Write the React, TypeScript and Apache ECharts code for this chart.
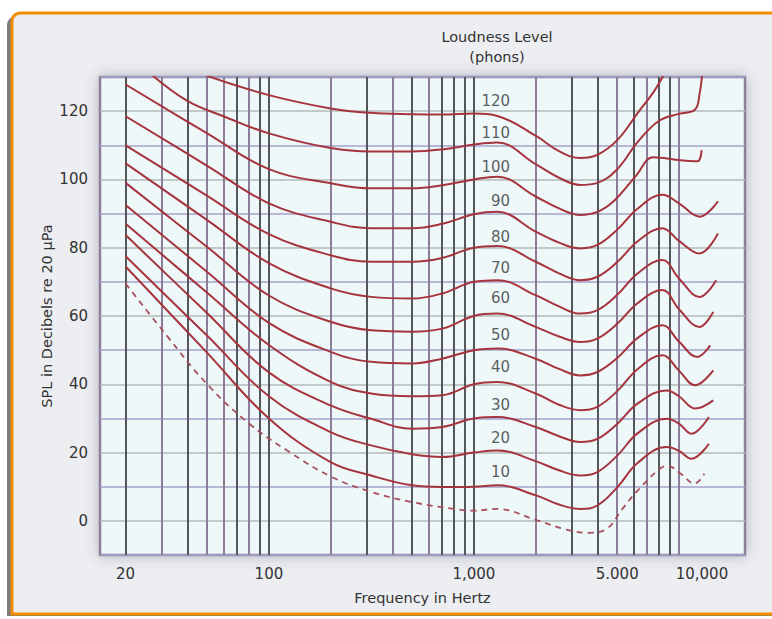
import React, { useEffect, useRef } from 'react';
import * as echarts from 'echarts';

// Loudness level of each solid contour (phons)
const PHONS = [120, 110, 100, 90, 80, 70, 60, 50, 40, 30, 20, 10];

// Each contour: [frequency Hz, SPL dB]
const PHON_120: [number, number][] = [[49, 130.5], [100, 124.7], [200, 120.8], [315, 119.5], [500, 119.1], [700, 119], [1000, 119.3], [1300, 118.6], [2000, 112.8], [2600, 108.3], [3300, 106.3], [4000, 107.2], [5000, 111.5], [6300, 119.5], [7500, 125.5], [8500, 131]];
const PHON_110: [number, number][] = [[27, 130.5], [40, 123], [60, 118.5], [100, 113.5], [200, 109.2], [315, 108.2], [500, 108.2], [700, 108.8], [1000, 110.2], [1300, 110.8], [2000, 104.5], [2600, 100.5], [3300, 98.4], [4000, 99], [5000, 103], [6300, 111], [8000, 117.2], [10000, 119.2], [12000, 120.5], [12600, 125], [13000, 131]];
const PHON_100: [number, number][] = [[20, 127.8], [50, 113.5], [100, 103], [200, 98.9], [315, 97.4], [500, 97.4], [700, 98.3], [1000, 100], [1300, 100.8], [2000, 95], [2600, 91.5], [3300, 89.6], [4000, 90.5], [4800, 93.6], [6200, 101.2], [7500, 106.5], [10200, 105.6], [12300, 105.3], [12900, 108.6]];
const PHON_90: [number, number][] = [[20, 118.5], [50, 104], [100, 93], [200, 87.6], [315, 85.7], [500, 85.7], [700, 87], [1000, 89.8], [1300, 90.5], [2000, 84.7], [2600, 81.5], [3300, 79.8], [4000, 80.8], [5000, 85.3], [6300, 91.5], [8300, 95.5], [10000, 93], [12600, 89.1], [15500, 93.6]];
const PHON_80: [number, number][] = [[20, 110], [50, 95.2], [100, 84], [200, 77.8], [315, 75.9], [500, 75.9], [700, 77], [1000, 80], [1300, 80.5], [2000, 75.9], [2600, 72.5], [3300, 70.5], [4000, 71.5], [5000, 75.8], [6300, 81.9], [8300, 85.7], [10000, 82], [12600, 78.3], [15500, 84.2]];
const PHON_70: [number, number][] = [[20, 104.7], [50, 88.1], [100, 75.5], [200, 68.1], [315, 65.6], [500, 65.1], [700, 66.6], [1000, 70], [1300, 70.5], [2000, 66.1], [2600, 62.8], [3300, 60.7], [4000, 61.7], [5000, 66.2], [6300, 72.5], [8300, 76.4], [10000, 71], [12600, 65.6], [15200, 70.5]];
const PHON_60: [number, number][] = [[20, 99], [50, 80.2], [100, 66], [200, 58.3], [315, 55.8], [500, 55.4], [700, 56.3], [1000, 60], [1300, 60.7], [2000, 56.8], [2600, 54], [3300, 52.4], [4000, 53.4], [5000, 57.7], [6300, 63.8], [8300, 67.6], [10000, 62], [12600, 56.8], [14700, 61.2]];
const PHON_50: [number, number][] = [[20, 92.5], [50, 72.9], [100, 58], [200, 49.5], [315, 46.6], [500, 46.1], [700, 47.5], [1000, 50], [1300, 50.5], [2000, 47.5], [2600, 44.5], [3300, 42.6], [4000, 43.6], [5000, 47.7], [6300, 53.6], [8300, 57.3], [10000, 52.5], [12300, 48], [14200, 51.4]];
const PHON_40: [number, number][] = [[20, 87], [50, 66.8], [100, 51.5], [200, 40.7], [315, 37.3], [500, 36.5], [700, 36.8], [1000, 40], [1300, 40.7], [2000, 37.3], [2600, 34], [3300, 32.4], [4000, 33.4], [5000, 38], [6300, 44.5], [8300, 48.5], [10000, 44], [12000, 39.7], [14700, 44.1]];
const PHON_30: [number, number][] = [[20, 83.7], [50, 60.8], [100, 43.5], [200, 33.8], [315, 29.9], [500, 27], [700, 27.5], [1000, 30], [1300, 30.4], [2000, 27.5], [2600, 24.8], [3300, 23.1], [4000, 24], [5000, 28.4], [6300, 34.4], [8700, 38.2], [10000, 36.5], [12000, 32.9], [14700, 35.3]];
const PHON_20: [number, number][] = [[20, 77.5], [50, 54.2], [100, 36.5], [200, 26], [315, 22.1], [500, 19.5], [700, 18.7], [1000, 20], [1300, 20.6], [2000, 17.5], [2600, 14.8], [3300, 13.3], [4000, 14.3], [5000, 19.1], [6300, 25.7], [8700, 29.9], [10000, 28.5], [11500, 25.5], [14000, 30.4]];
const PHON_10: [number, number][] = [[20, 74.5], [50, 49.2], [100, 30], [200, 17.2], [315, 13.3], [500, 10.4], [700, 9.9], [1000, 10], [1300, 10.4], [2000, 7.5], [2600, 4.8], [3300, 3.5], [4000, 4.5], [5000, 9.8], [6300, 17], [8700, 21.6], [10000, 20.5], [11500, 18.2], [14000, 22.6]];
const CURVES = [PHON_120, PHON_110, PHON_100, PHON_90, PHON_80, PHON_70, PHON_60, PHON_50, PHON_40, PHON_30, PHON_20, PHON_10];

// Threshold of hearing (dashed)
const THRESHOLD: [number, number][] = [[20, 69.5], [31.5, 54.5], [50, 40], [80, 28.5], [125, 20.3], [200, 13], [315, 8.5], [500, 5.5], [800, 3.5], [1000, 3], [1300, 3.5], [2000, 0.3], [2800, -2.5], [3600, -3.5], [4450, -2.3], [5300, 3.5], [6400, 9.4], [8100, 15.3], [8800, 16.1], [10200, 13.8], [11900, 10.9], [13300, 13.8]];

// Curve label anchors (right edge of text) [Hz, dB]
const LABEL_POS: [number, number][] = [[1500, 123], [1500, 113.6], [1500, 103.7], [1500, 93.7], [1500, 83.2], [1500, 74.1], [1500, 65.3], [1500, 54.3], [1500, 45], [1500, 33.9], [1500, 24.2], [1500, 14.3]];

// Vertical frequency grid
const GRID_FREQS = [20, 30, 40, 50, 60, 70, 80, 90, 100, 200, 300, 400, 500, 600, 700, 800, 900, 1000, 2000, 3000, 4000, 5000, 6000, 7000, 8000, 9000, 10000];
const GRID_PURPLE = [30, 50, 60, 80, 200, 400, 600, 2000, 5000, 7000, 10000];

// Tick labels
const X_TICKS = [20, 100, 1000, 5000, 10000];
const X_TICK_TEXT = ['20', '100', '1,000', '5.000', '10,000'];
const Y_TICKS = [0, 20, 40, 60, 80, 100, 120];

const FONT = '"DejaVu Sans", sans-serif';

export default function App() {
  const ref = useRef<HTMLDivElement>(null);
  useEffect(() => {
    if (!ref.current) return;
    const chart = echarts.init(ref.current, null, { renderer: 'svg' });
    const curveSeries = CURVES.map((d) => ({
      type: 'line',
      data: d,
      showSymbol: false,
      symbol: 'none',
      smooth: 0.4,
      clip: true,
      silent: true,
      z: 5,
      lineStyle: { color: '#a6343f', width: 2 },
    }));
    const option: any = {
      animation: false,
      backgroundColor: '#ffffff',
      textStyle: { fontFamily: FONT },
      graphic: [
        { type: 'rect', z: -10, silent: true, shape: { x: 7, y: 16, width: 820, height: 600, r: [9, 0, 0, 0] }, style: { fill: '#7d7d7d' } },
        { type: 'rect', z: -9, silent: true, shape: { x: 12, y: 13, width: 820, height: 601, r: [8, 0, 0, 0] }, style: { fill: '#eceef2', stroke: '#f28c00', lineWidth: 3 } },
        { type: 'text', z: 50, x: 497, y: 27, style: { text: 'Loudness Level\n(phons)', fill: '#333', font: '14.5px ' + FONT, align: 'center', lineHeight: 20 } },
      ],
      grid: {
        left: 100, right: 27, top: 77, bottom: 64,
        show: true, backgroundColor: '#eef8f8', borderColor: '#8d7f99', borderWidth: 2.5,
        shadowBlur: 14, shadowColor: 'rgba(70,70,100,0.35)',
      },
      xAxis: {
        type: 'log', logBase: 10, min: 15, max: 21000,
        axisLine: { show: false }, axisTick: { show: false }, splitLine: { show: false },
        axisLabel: {
          customValues: X_TICKS,
          margin: 11, color: '#333', fontSize: 15, fontFamily: FONT,
          formatter: (v: number) => {
            const i = X_TICKS.indexOf(Math.round(v));
            if (i < 0) return '';
            return Math.round(v) === 10000 ? '{far|' + X_TICK_TEXT[i] + '}' : X_TICK_TEXT[i];
          },
          rich: { far: { padding: [0, 0, 0, 46], fontSize: 15, color: '#333', fontFamily: FONT } },
        },
        name: 'Frequency in Hertz', nameLocation: 'middle', nameGap: 35,
        nameTextStyle: { fontSize: 14.5, color: '#333', fontFamily: FONT },
      },
      yAxis: {
        type: 'value', min: -10, max: 130, interval: 10,
        axisLine: { show: false }, axisTick: { show: false },
        splitLine: { show: true, lineStyle: { color: ['#a4a3cc', '#b3bbba'], width: 1.6 } },
        axisLabel: {
          margin: 12, color: '#333', fontSize: 15, fontFamily: FONT,
          formatter: (v: number) => (Y_TICKS.indexOf(Math.round(v)) >= 0 ? String(Math.round(v)) : ''),
        },
        name: 'SPL in Decibels re 20 µPa', nameLocation: 'middle', nameGap: 46, nameMoveOverlap: false,
        nameTextStyle: { fontSize: 14.5, color: '#333', fontFamily: FONT },
      },
      series: [
        {
          type: 'line', data: [], z: 2, silent: true,
          markLine: {
            symbol: ['none', 'none'], silent: true, animation: false,
            label: { show: false },
            lineStyle: { type: 'solid', width: 2, color: '#55555c' },
            emphasis: { disabled: true },
            data: GRID_FREQS.map((f) => ({
              xAxis: f,
              lineStyle: { type: 'solid', width: 2, color: GRID_PURPLE.indexOf(f) >= 0 ? '#8c7c98' : '#55555c' },
            })),
          },
        },
        ...curveSeries,
        {
          type: 'line', data: THRESHOLD, showSymbol: false, symbol: 'none', smooth: 0.4, clip: true, silent: true, z: 5,
          lineStyle: { color: '#a8505d', width: 1.8, type: [6, 5] },
        },
        {
          type: 'scatter', data: LABEL_POS, symbolSize: 0, silent: true, z: 6,
          itemStyle: { color: 'rgba(0,0,0,0)' },
          label: {
            show: true, position: 'left', distance: 0, fontSize: 15, color: '#333', fontFamily: FONT,
            formatter: (p: any) => String(PHONS[p.dataIndex]),
          },
        },
      ],
    };
    chart.setOption(option);
    return () => chart.dispose();
  }, []);
  return <div ref={ref} style={{ position: 'absolute', left: 0, top: 0, width: 772, height: 619 }} />;
}
